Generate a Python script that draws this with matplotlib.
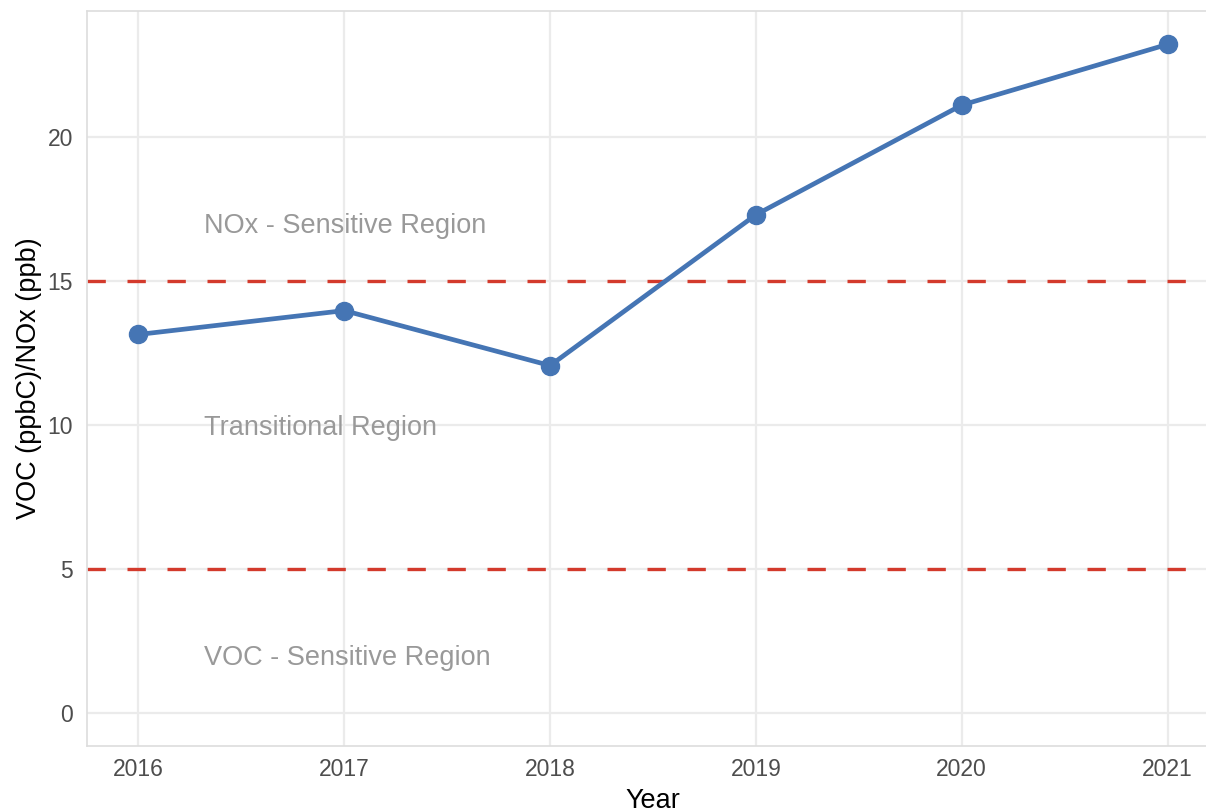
import matplotlib
matplotlib.use("Agg")
import matplotlib.pyplot as plt

plt.rcParams['font.family'] = ['Liberation Sans', 'DejaVu Sans']

years = [2016, 2017, 2018, 2019, 2020, 2021]
ratio = [13.14, 13.97, 12.06, 17.30, 21.11, 23.22]

thresholds = [5, 15]
region_labels = ["NOx - Sensitive Region", "Transitional Region", "VOC - Sensitive Region"]
region_y = [17, 10, 2]

fig = plt.figure(figsize=(12.06, 8.11), dpi=100)
# panel runs a little past the right edge, like the cropped original
ax = fig.add_axes([87/1206, 1 - 746/811, (1219 - 87)/1206, (746 - 11)/811])

ax.grid(True, color="#ebebeb", linewidth=1.6)
ax.set_axisbelow(True)

for t in thresholds:
    ax.axhline(t, color="#d33a2c", linestyle=(0, (5.5, 6.5)), linewidth=2.4, zorder=2)

for lab, yy in zip(region_labels, region_y):
    ax.text(2016.32, yy, lab, color="#999999", fontsize=19.5, ha="left",
            va="center_baseline", zorder=3)

ax.plot(years, ratio, color="#4575b4", linewidth=3.4, marker="o", markersize=13, zorder=4)

ax.set_xlim(2015.75, 2021.25)
ax.set_ylim(-1.16, 24.38)
ax.set_xticks(years)
ax.set_yticks([0, 5, 10, 15, 20])

for s in ["top", "left", "bottom"]:
    ax.spines[s].set_color("#dddddd")
    ax.spines[s].set_linewidth(1.2)
ax.spines["right"].set_visible(False)

ax.tick_params(length=0, labelsize=16.5, labelcolor="#4d4d4d")
ax.tick_params(axis="y", pad=10)
ax.tick_params(axis="x", pad=9)

ax.set_xlabel("Year", fontsize=19.5, labelpad=5)
ax.set_ylabel("VOC (ppbC)/NOx (ppb)", fontsize=19.5, labelpad=4)

fig.savefig("out.png", dpi=100)
